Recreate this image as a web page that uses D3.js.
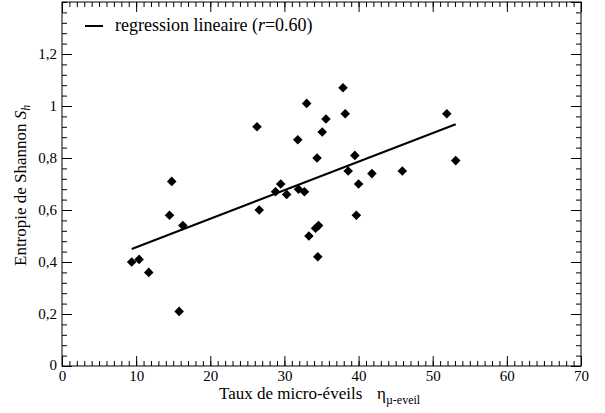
<!DOCTYPE html>
<html lang="fr">
<head>
<meta charset="utf-8">
<style>
html, body {
    margin: 0;
    padding: 0;
    background: white;
}
svg text {
    font-family: "Liberation Serif", "Times New Roman", serif;
    fill: black;
}
.axis path { display: none; }
.axis line { stroke: black; stroke-width: 1; }
</style>
</head>
<body>
<div id="stage"></div>

<script src="https://cdn.jsdelivr.net/npm/d3@7/dist/d3.min.js"></script>
<script>

// taux de micro-eveils (x) et entropie de Shannon (y)
var rateValues = [9.4, 10.4, 11.7, 14.5, 14.8, 16.3, 15.8, 26.3, 26.6, 28.8, 29.5, 30.3,
    31.8, 31.9, 32.7, 33.0, 33.3, 34.2, 34.6, 34.5, 34.4, 35.1, 35.6,
    37.9, 38.2, 38.6, 39.5, 40.0, 39.7, 41.8, 45.9, 51.9, 53.1];
var entropyValues = [0.40, 0.41, 0.36, 0.58, 0.71, 0.54, 0.21, 0.92, 0.60, 0.67, 0.70, 0.66,
    0.87, 0.68, 0.67, 1.01, 0.50, 0.53, 0.54, 0.42, 0.80, 0.90, 0.95,
    1.07, 0.97, 0.75, 0.81, 0.70, 0.58, 0.74, 0.75, 0.97, 0.79];

// droite de regression (extremites)
var regressionX = [9.4, 53.1];
var regressionY = [0.45, 0.93];

var xTicks = [0, 10, 20, 30, 40, 50, 60, 70];
var xTickLabels = ["0", "10", "20", "30", "40", "50", "60", "70"];
var yTicks = [0, 0.2, 0.4, 0.6, 0.8, 1.0, 1.2];
var yTickLabels = ["0", "0,2", "0,4", "0,6", "0,8", "1", "1,2"];

draw();

function draw() {
    var width = 605, height = 413;
    var pLeft = 62, pRight = 581, pTop = 2, pBottom = 366;
    var serif = "'Liberation Serif', 'Times New Roman', serif";

    var svg = d3.select("#stage").append("svg")
        .attr("width", width)
        .attr("height", height)
        .attr("font-family", serif);

    var xScale = d3.scaleLinear().domain([0, 70]).range([pLeft, pRight]);
    var yScale = d3.scaleLinear().domain([0, 1.4]).range([pBottom, pTop]);

    var xMinor = d3.range(0, 70.5, 1);
    var yMinor = d3.range(0, 1.401, 0.04);

    // ticks mineurs sur les quatre cotes
    function minor(g, axis, vals) {
        g.attr("class", "axis").call(axis.tickValues(vals).tickFormat("").tickSize(-5));
    }
    svg.append("g").attr("transform", "translate(0," + pBottom + ")").call(minor, d3.axisBottom(xScale), xMinor);
    svg.append("g").attr("transform", "translate(0," + pTop + ")").call(minor, d3.axisTop(xScale), xMinor);
    svg.append("g").attr("transform", "translate(" + pLeft + ",0)").call(minor, d3.axisLeft(yScale), yMinor);
    svg.append("g").attr("transform", "translate(" + pRight + ",0)").call(minor, d3.axisRight(yScale), yMinor);

    // ticks majeurs
    var xAxis = svg.append("g")
        .attr("class", "axis")
        .attr("transform", "translate(0," + pBottom + ")")
        .call(d3.axisBottom(xScale).tickValues(xTicks)
            .tickFormat(function (d, i) { return xTickLabels[i]; })
            .tickSizeInner(-10).tickSizeOuter(0).tickPadding(4));
    xAxis.attr("font-family", serif);
    xAxis.selectAll("text").attr("font-family", serif).attr("font-size", 15).attr("y", 4);

    svg.append("g").attr("class", "axis")
        .attr("transform", "translate(0," + pTop + ")")
        .call(d3.axisTop(xScale).tickValues(xTicks).tickFormat("").tickSize(-10));

    var yAxis = svg.append("g")
        .attr("class", "axis")
        .attr("transform", "translate(" + pLeft + ",0)")
        .call(d3.axisLeft(yScale).tickValues(yTicks)
            .tickFormat(function (d, i) { return yTickLabels[i]; })
            .tickSizeInner(-10).tickSizeOuter(0).tickPadding(4));
    yAxis.attr("font-family", serif);
    yAxis.selectAll("text").attr("font-family", serif).attr("font-size", 15).attr("x", -5);
    yAxis.selectAll(".tick").filter(function (d) { return d === 0; })
        .select("text").attr("dy", "0.2em");

    svg.append("g").attr("class", "axis")
        .attr("transform", "translate(" + pRight + ",0)")
        .call(d3.axisRight(yScale).tickValues(yTicks.concat([1.4])).tickFormat("").tickSize(-10));

    // cadre
    svg.append("rect")
        .attr("x", pLeft).attr("y", pTop)
        .attr("width", pRight - pLeft).attr("height", pBottom - pTop)
        .attr("fill", "none").attr("stroke", "black").attr("stroke-width", 1);

    // droite de regression
    svg.append("line")
        .attr("x1", xScale(regressionX[0])).attr("y1", yScale(regressionY[0]))
        .attr("x2", xScale(regressionX[1])).attr("y2", yScale(regressionY[1]))
        .attr("stroke", "black").attr("stroke-width", 2);

    // points
    var diamond = d3.symbol().type(d3.symbolSquare).size(46);
    svg.selectAll(".pt")
        .data(rateValues)
        .enter()
        .append("path")
        .attr("class", "pt")
        .attr("d", diamond)
        .attr("transform", function (d, i) {
            return "translate(" + xScale(d) + "," + yScale(entropyValues[i]) + ") rotate(45)";
        })
        .attr("fill", "black");

    // legende
    svg.append("line")
        .attr("x1", 85).attr("x2", 103).attr("y1", 26).attr("y2", 26)
        .attr("stroke", "black").attr("stroke-width", 2);
    var leg = svg.append("text").attr("x", 115).attr("y", 31).attr("font-size", 18);
    leg.append("tspan").text("regression lineaire (");
    leg.append("tspan").attr("font-style", "italic").text("r");
    leg.append("tspan").text("=0.60)");

    // titres des axes
    var xTitle = svg.append("text").attr("x", 219).attr("y", 399).attr("font-size", 17);
    xTitle.append("tspan").text("Taux de micro-éveils");
    xTitle.append("tspan").attr("x", 377).text("η");
    xTitle.append("tspan").attr("font-size", 12).attr("dy", 5).text("µ-eveil");

    var yTitle = svg.append("text")
        .attr("transform", "translate(26,266) rotate(-90)")
        .attr("font-size", 17);
    yTitle.append("tspan").text("Entropie de Shannon ");
    yTitle.append("tspan").attr("font-style", "italic").text("S");
    yTitle.append("tspan").attr("font-style", "italic").attr("font-size", 12).attr("dy", 4).text("h");
}

</script>
</body>
</html>
